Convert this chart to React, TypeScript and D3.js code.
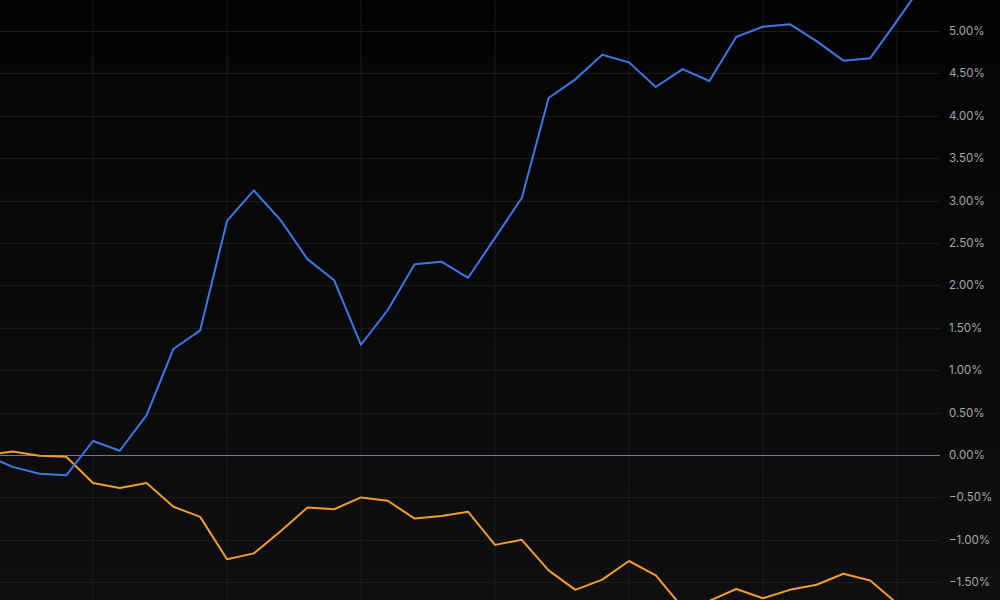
import { useEffect, useRef } from "react";
import * as d3 from "d3";

// cumulative returns (%) per period, index 0 is the base (0%)
const blueSeries = [
  0, -0.14, -0.22, -0.24, 0.165, 0.05, 0.47, 1.25, 1.47, 2.76, 3.12, 2.77, 2.31,
  2.06, 1.3, 1.71, 2.25, 2.28, 2.09, 2.56, 3.03, 4.21, 4.43, 4.72, 4.63, 4.34,
  4.55, 4.41, 4.93, 5.05, 5.08, 4.88, 4.65, 4.68, 5.12, 5.57,
];
const orangeSeries = [
  0, 0.04, -0.01, -0.02, -0.33, -0.39, -0.33, -0.61, -0.73, -1.23, -1.16, -0.9,
  -0.62, -0.64, -0.5, -0.54, -0.75, -0.72, -0.67, -1.06, -1.0, -1.36, -1.59,
  -1.47, -1.25, -1.42, -1.8, -1.72, -1.58, -1.69, -1.59, -1.53, -1.4, -1.48,
  -1.75, -1.92,
];
const yTicks = [-1.5, -1, -0.5, 0, 0.5, 1, 1.5, 2, 2.5, 3, 3.5, 4, 4.5, 5];
const xGridIdx = [4, 9, 14, 19, 24, 29, 34];

const W = 1000;
const H = 600;
const plotRight = 940;

export default function App() {
  const svgRef = useRef<SVGSVGElement | null>(null);

  useEffect(() => {
    if (!svgRef.current) return;
    const svg = d3.select(svgRef.current);
    svg.selectAll("*").remove();

    const x = d3.scaleLinear().domain([0, 35]).range([-14.2, 923.8]);
    const y = d3.scaleLinear().domain([0, 5]).range([455, 31]);

    const defs = svg.append("defs");
    const grad = defs
      .append("linearGradient")
      .attr("id", "bg")
      .attr("x1", 0)
      .attr("y1", 0)
      .attr("x2", 0)
      .attr("y2", 1);
    grad.append("stop").attr("offset", "0%").attr("stop-color", "#030303");
    grad.append("stop").attr("offset", "100%").attr("stop-color", "#0f0f0f");
    defs
      .append("clipPath")
      .attr("id", "plotClip")
      .append("rect")
      .attr("x", 0)
      .attr("y", 0)
      .attr("width", plotRight)
      .attr("height", H);

    svg.append("rect").attr("width", W).attr("height", H).attr("fill", "url(#bg)");

    // grid
    const grid = svg.append("g").attr("clip-path", "url(#plotClip)");
    grid
      .selectAll("line.v")
      .data(xGridIdx)
      .enter()
      .append("line")
      .attr("x1", (d) => x(d))
      .attr("x2", (d) => x(d))
      .attr("y1", 0)
      .attr("y2", H)
      .attr("stroke", "#1b1b1b")
      .attr("stroke-width", 1);
    grid
      .selectAll("line.h")
      .data(yTicks.filter((t) => t !== 0))
      .enter()
      .append("line")
      .attr("x1", 0)
      .attr("x2", plotRight)
      .attr("y1", (d) => Math.round(y(d)) + 0.5)
      .attr("y2", (d) => Math.round(y(d)) + 0.5)
      .attr("stroke", "#1b1b1b")
      .attr("stroke-width", 1);

    // zero baseline
    svg
      .append("line")
      .attr("x1", 0)
      .attr("x2", plotRight)
      .attr("y1", Math.round(y(0)) + 0.5)
      .attr("y2", Math.round(y(0)) + 0.5)
      .attr("stroke", "#75758c")
      .attr("stroke-width", 1);

    // lines
    const line = d3
      .line<number>()
      .x((_d, i) => x(i))
      .y((d) => y(d));
    const lines = svg.append("g").attr("clip-path", "url(#plotClip)");
    lines
      .append("path")
      .datum(orangeSeries)
      .attr("fill", "none")
      .attr("stroke", "#f39a2e")
      .attr("stroke-width", 2)
      .attr("stroke-linejoin", "round")
      .attr("d", line);
    lines
      .append("path")
      .datum(blueSeries)
      .attr("fill", "none")
      .attr("stroke", "#3c78e4")
      .attr("stroke-width", 2)
      .attr("stroke-linejoin", "round")
      .attr("d", line);

    // right axis labels
    const fmt = d3.format(".2f");
    svg
      .append("g")
      .selectAll("text")
      .data(yTicks)
      .enter()
      .append("text")
      .attr("x", 949)
      .attr("y", (d) => y(d))
      .attr("dy", "0.35em")
      .style("font", "11.5px Inter, 'Noto Sans', sans-serif")
      .style("fill", "#a6a6a6")
      .text((d) => `${fmt(d)}%`);
  }, []);

  return (
    <svg
      ref={svgRef}
      width={W}
      height={H}
      style={{ position: "absolute", left: 0, top: 0, display: "block" }}
    />
  );
}
